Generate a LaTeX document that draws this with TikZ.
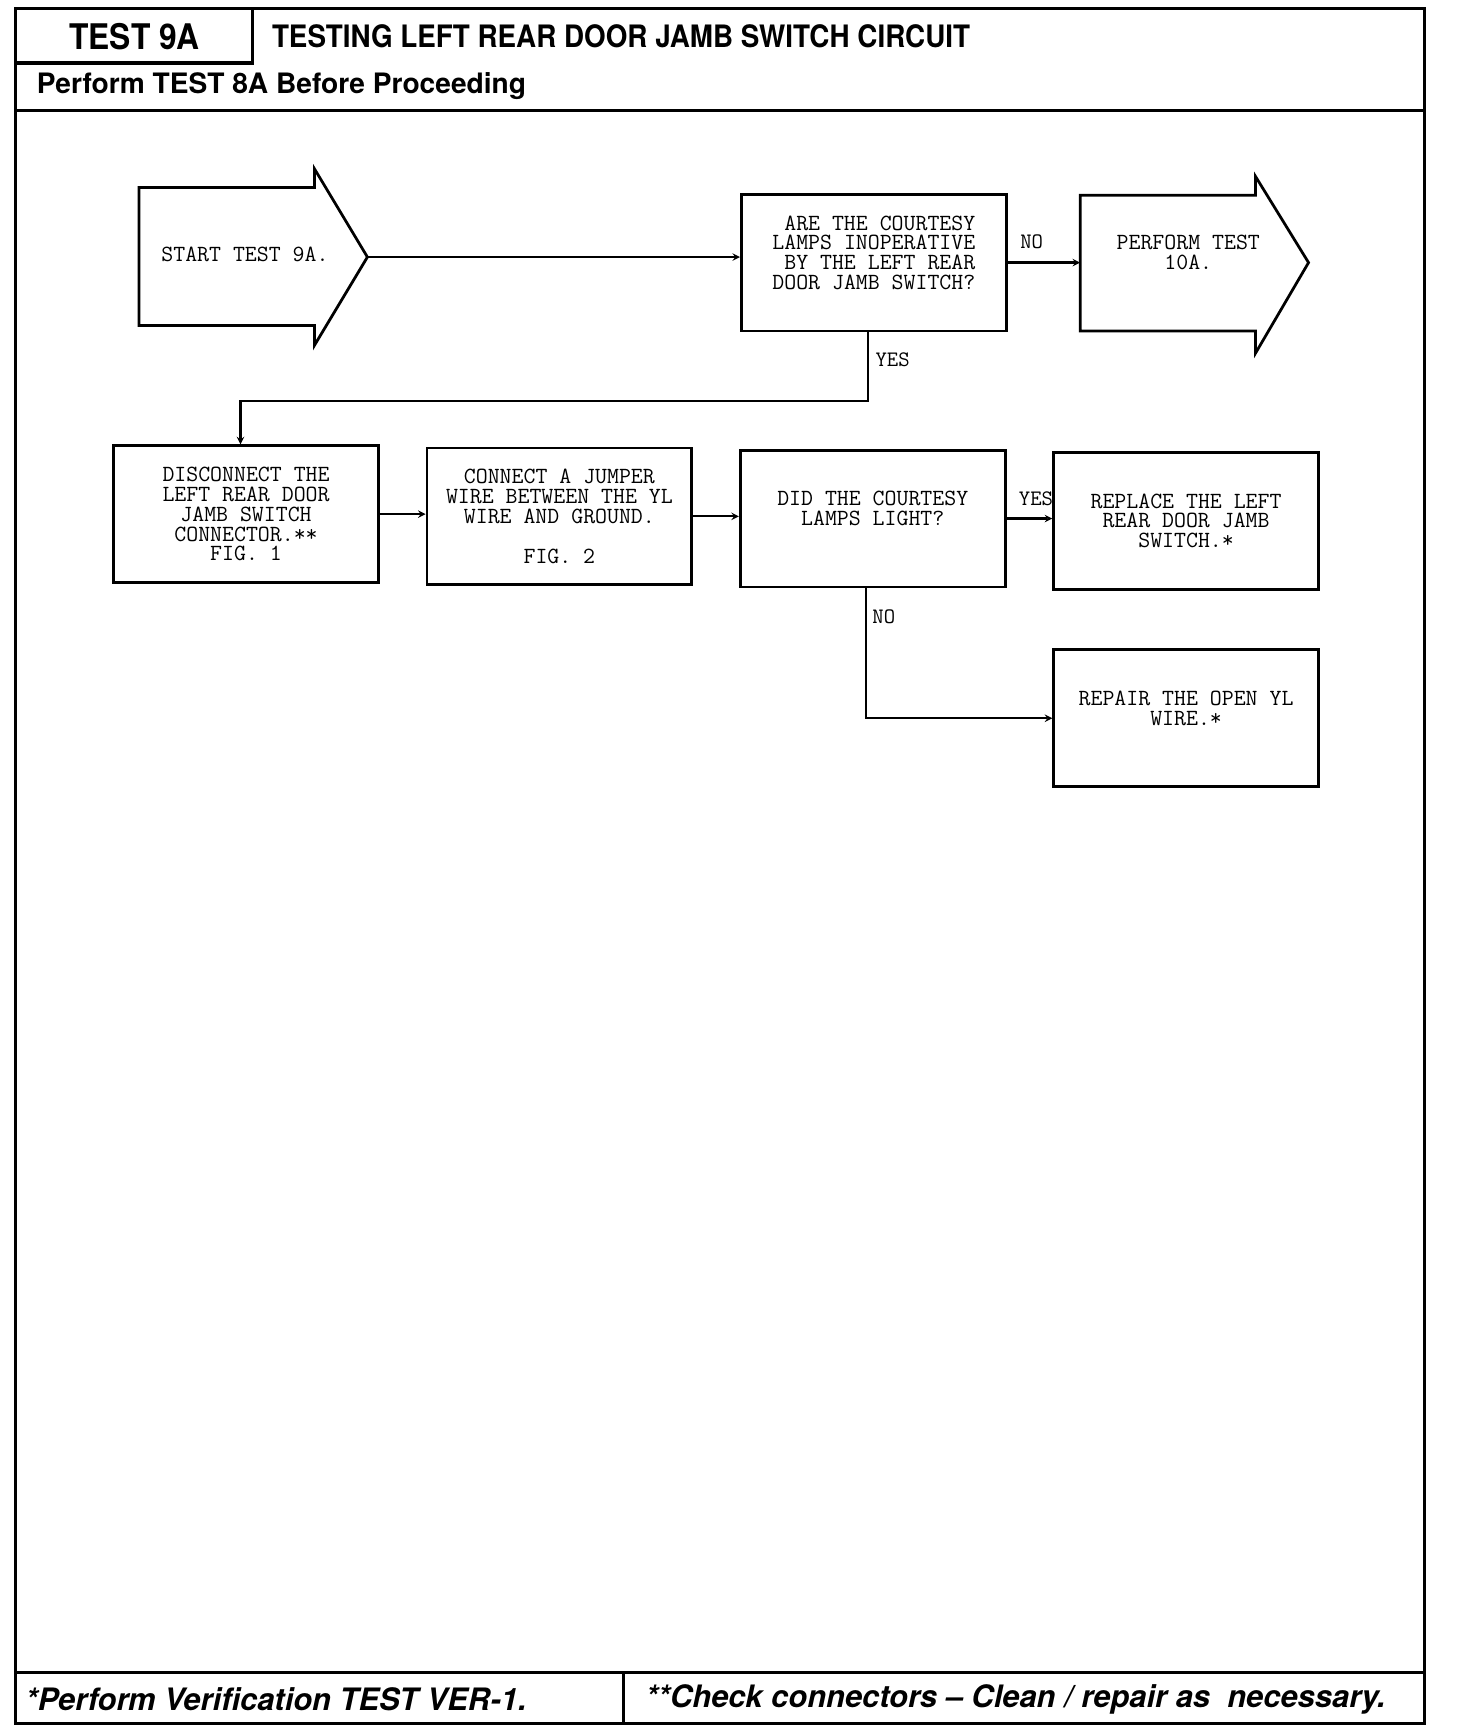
\documentclass[tikz,border=0pt]{standalone}
\usepackage{fontspec}
\usepackage{graphicx}
\newfontfamily\hdfont{TeX Gyre Heros}
\tikzset{
  box/.style={draw, line width=2.5pt, minimum width=240pt, minimum height=124pt, align=center, inner sep=0pt, font=\ttfamily\fontsize{21}{18}\selectfont},
  txt/.style={align=center, inner sep=0pt, font=\ttfamily\fontsize{21}{18}\selectfont},
  lbl/.style={inner sep=0pt, font=\ttfamily\fontsize{20}{18}\selectfont},
  conn/.style={line width=2pt, -stealth},
  frame/.style={line width=3pt},
}
\begin{document}
\begin{tikzpicture}[x=1pt,y=-1pt]
    \useasboundingbox (0,0) rectangle (1320,1568);
    % frame and header rows
    \draw[frame] (14,8) rectangle (1291,1562);
    \draw[frame] (229,8) -- (229,57) -- (14,57);
    \draw[frame] (14,100) -- (1291,100);
    \draw[frame] (14,1516) -- (1291,1516);
    \draw[frame] (565,1516) -- (565,1562);
    \node[font=\hdfont\bfseries\fontsize{32}{32}\selectfont] (testno) at (122,33) {\scalebox{0.9}[1]{TEST 9A}};
    \node[anchor=west, font=\hdfont\bfseries\fontsize{28}{28}\selectfont] (title) at (243,33) {\scalebox{0.9}[1]{TESTING LEFT REAR DOOR JAMB SWITCH CIRCUIT}};
    \node[anchor=west, font=\hdfont\bfseries\fontsize{25.5}{26}\selectfont] (before) at (30,78) {Perform TEST 8A Before Proceeding};
    % start and end arrows
    \draw[line width=2.5pt] (126,170) -- (285,170) -- (285,153) -- (333,233) -- (285,313) -- (285,295) -- (126,295) -- cycle;
    \coordinate (starttip) at (333,233);
    \node[txt] (starttext) at (222,231) {START TEST 9A.};
    \draw[line width=2.5pt] (979,177) -- (1138,177) -- (1138,160) -- (1186,238) -- (1138,320) -- (1138,300) -- (979,300) -- cycle;
    \coordinate (endin) at (979,238);
    \node[txt] (endtext) at (1077,229) {PERFORM TEST\\10A.};
    % boxes
    \node[box, align=right] (q1) at (792,238) {ARE THE COURTESY\\LAMPS INOPERATIVE\\BY THE LEFT REAR\\DOOR JAMB SWITCH?\\\mbox{}};
    \node[box] (disc) at (223,466) {DISCONNECT THE\\LEFT REAR DOOR\\JAMB SWITCH\\CONNECTOR.**\\FIG. 1};
    \node[box] (jumper) at (507,468) {CONNECT A JUMPER\\WIRE BETWEEN THE YL\\WIRE AND GROUND.\\[18pt]FIG. 2};
    \node[box] (lamps) at (791,470) {DID THE COURTESY\\LAMPS LIGHT?\\\mbox{}};
    \node[box] (replace) at (1075,472) {REPLACE THE LEFT\\REAR DOOR JAMB\\SWITCH.*};
    \node[box] (repair) at (1075,651) {REPAIR THE OPEN YL\\WIRE.*\\\mbox{}};
    % connectors
    \draw[conn] (starttip) -- (starttip -| q1.west);
    \draw[conn] (q1.east) -- (endin);
    \node[lbl] (noa) at (935,219) {NO};
    \draw[conn] ([xshift=-5pt]q1.south) -- ++(0,62) -| ([xshift=-5pt]disc.north);
    \node[lbl] (yesa) at (809,326) {YES};
    \draw[conn] (disc.east) -- (disc.east -| jumper.west);
    \draw[conn] (jumper.east) -- (jumper.east -| lamps.west);
    \draw[conn] (lamps.east) -- (lamps.east -| replace.west);
    \node[lbl] (yesb) at (939,452) {YES};
    \draw[conn] ([xshift=-6pt]lamps.south) |- (repair.west);
    \node[lbl] (nob) at (801,559) {NO};
    % footer notes
    \node[anchor=west, font=\hdfont\bfseries\itshape\fontsize{28}{28}\selectfont] (vernote) at (20,1540) {*Perform Verification TEST VER-1.};
    \node[anchor=west, font=\hdfont\bfseries\itshape\fontsize{28}{28}\selectfont] (connnote) at (582,1540) {**Check connectors – Clean / repair as\ \ necessary.};
\end{tikzpicture}
\end{document}
